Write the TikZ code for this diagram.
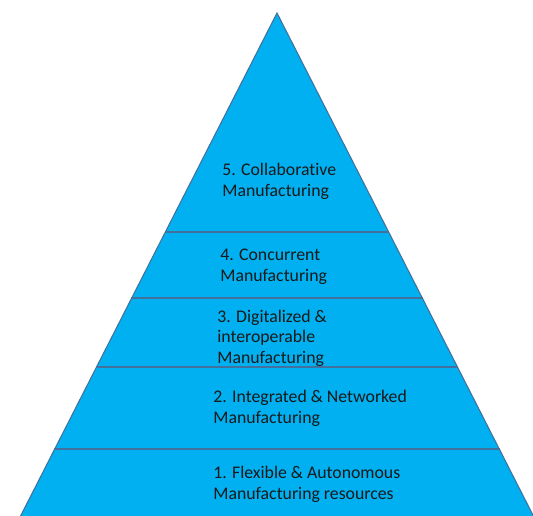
\documentclass[tikz,border=0pt]{standalone}
\usepackage{fontspec}
\setmainfont{Carlito}[Ligatures={NoCommon}]
\usepackage{tikz}

\definecolor{pyrfill}{HTML}{00B0F0}
\definecolor{pyredge}{HTML}{41719C}

\begin{document}
\begin{tikzpicture}[scale=0.2]
\tikzstyle{every node}+=[inner sep=0pt]
\tikzstyle{lvl}=[anchor=west, align=left, text=black!90, font=\fontsize{10.1}{11.7}\selectfont]
\useasboundingbox (0,0) rectangle (53.3,-51.6);
% pyramid
\draw [pyredge, fill=pyrfill, line width=0.6pt, line join=miter] (27.7,-1.3) -- (1.7,-52.3) -- (53.7,-52.3) -- cycle;
% level dividers
\draw [pyredge, line width=0.6pt] (16.5,-23.2) -- (38.9,-23.2);
\draw [pyredge, line width=0.6pt] (13.1,-29.8) -- (42.3,-29.8);
\draw [pyredge, line width=0.6pt] (9.6,-36.7) -- (45.8,-36.7);
\draw [pyredge, line width=0.6pt] (5.4,-44.9) -- (50.0,-44.9);
% level labels
\node [lvl] (lvl5) at (22.2,-18.15) {5. Collaborative\\Manufacturing};
\node [lvl] (lvl4) at (22.0,-26.65) {4. Concurrent\\Manufacturing};
\node [lvl] (lvl3) at (21.7,-33.8) {3. Digitalized \&\\interoperable\\Manufacturing};
\node [lvl] (lvl2) at (21.3,-40.85) {2. Integrated \& Networked\\Manufacturing};
\node [lvl] (lvl1) at (21.3,-48.45) {1. Flexible \& Autonomous\\Manufacturing resources};
\end{tikzpicture}
\end{document}
